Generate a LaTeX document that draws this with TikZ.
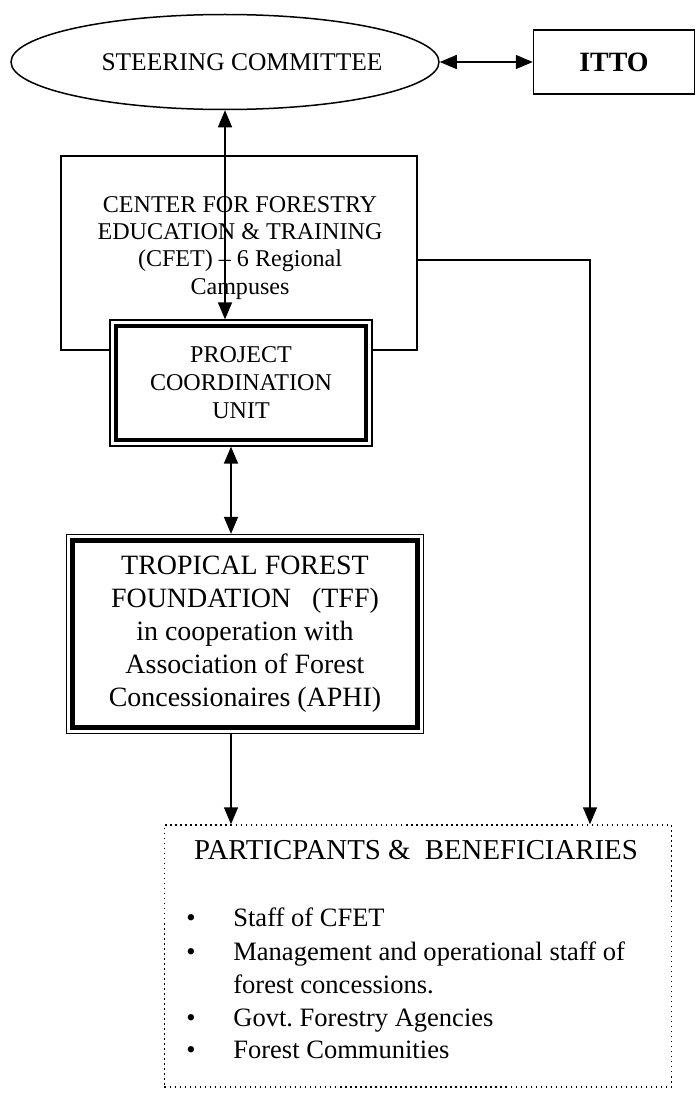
\documentclass[tikz,border=0pt]{standalone}
\usepackage{fontspec}
\setmainfont{Liberation Serif}
\usetikzlibrary{arrows.meta,shapes.geometric}

\begin{document}
\begin{tikzpicture}[x=0.2mm,y=-0.2mm,>={Triangle[length=3.4mm,width=2.8mm]},
  link/.style={line width=0.3mm},
  thinframe/.style={draw,line width=0.25mm,fill=white,inner sep=0pt},
  thickframe/.style={draw,line width=0.9mm,fill=white,inner sep=0pt,align=center}]
  \useasboundingbox (0,0) rectangle (696,1094);

  % Top row: the committee talks to ITTO.
  \node[ellipse,draw,line width=0.3mm,minimum width=85.6mm,minimum height=19mm] (sc) at (225,62) {};
  \node[font=\fontsize{14.5}{17}\selectfont] (sctext) at (242,62) {STEERING COMMITTEE};
  \node[draw,line width=0.3mm,minimum width=32.2mm,minimum height=12.8mm,
    font=\fontsize{15.9}{18}\selectfont\bfseries] (itto) at (614,62) {ITTO};
  \draw[link,<->] (sc.east) -- (itto.west);

  % CFET box, with the PCU sitting on its bottom edge.
  \node[draw,line width=0.4mm,minimum width=71.2mm,minimum height=38.6mm] (cfet) at (239,253) {};
  \node[align=center,font=\fontsize{13.7}{15.4}\selectfont] (cfettext) at (240,248)
    {CENTER FOR FORESTRY\\ EDUCATION \& TRAINING\\ (CFET) -- 6 Regional\\ Campuses};
  \node[thinframe,minimum width=52.4mm,minimum height=25.2mm] (pcuframe) at (241,383) {};
  \node[thickframe,minimum width=50mm,minimum height=22.8mm,
    font=\fontsize{13.7}{15.9}\selectfont] (pcu) at (pcuframe) {PROJECT\\ COORDINATION\\ UNIT};
  \draw[link,<->] (sc.south) -- (sc.south |- pcuframe.north);

  % TFF with APHI.
  \coordinate (colA) at (231,0);
  \node[thinframe,minimum width=71.4mm,minimum height=39.8mm] (tffframe) at (245,634) {};
  \node[thickframe,minimum width=69mm,minimum height=37.4mm,
    font=\fontsize{15.9}{18.8}\selectfont] (tff) at (tffframe)
    {TROPICAL FOREST\\ FOUNDATION~~~(TFF)\\ in cooperation with\\
     Association of Forest\\ Concessionaires (APHI)};
  \draw[link,<->] (pcuframe.south -| colA) -- (tffframe.north -| colA);

  % Who takes part.
  \node[draw,line width=0.3mm,dotted,minimum width=101.4mm,minimum height=52.4mm] (part) at (418,956) {};
  \node[anchor=base,font=\fontsize{16.4}{19}\selectfont] (ptitle) at (416,859)
    {PARTICPANTS \&~~BENEFICIARIES};
  \foreach \y/\n in {926/1,960/2,1026/4,1058/5} {
    \node[anchor=base,font=\fontsize{15.1}{18}\selectfont] (dot\n) at (191,\y) {\textbullet};
  }
  \foreach \y/\txt/\n in {926/Staff of CFET/1,960/Management and operational staff of/2,
                          993/forest concessions./3,1026/Govt.\ Forestry Agencies/4,
                          1058/Forest Communities/5} {
    \node[anchor=base west,inner sep=0pt,font=\fontsize{15.1}{18}\selectfont] (item\n) at (233,\y) {\txt};
  }

  \coordinate (bend) at (590,260);
  \draw[link,->] (tffframe.south -| colA) -- (colA |- part.north);
  \draw[link,->] (cfet.east |- bend) -- (bend) -- (bend |- part.north);
\end{tikzpicture}
\end{document}
